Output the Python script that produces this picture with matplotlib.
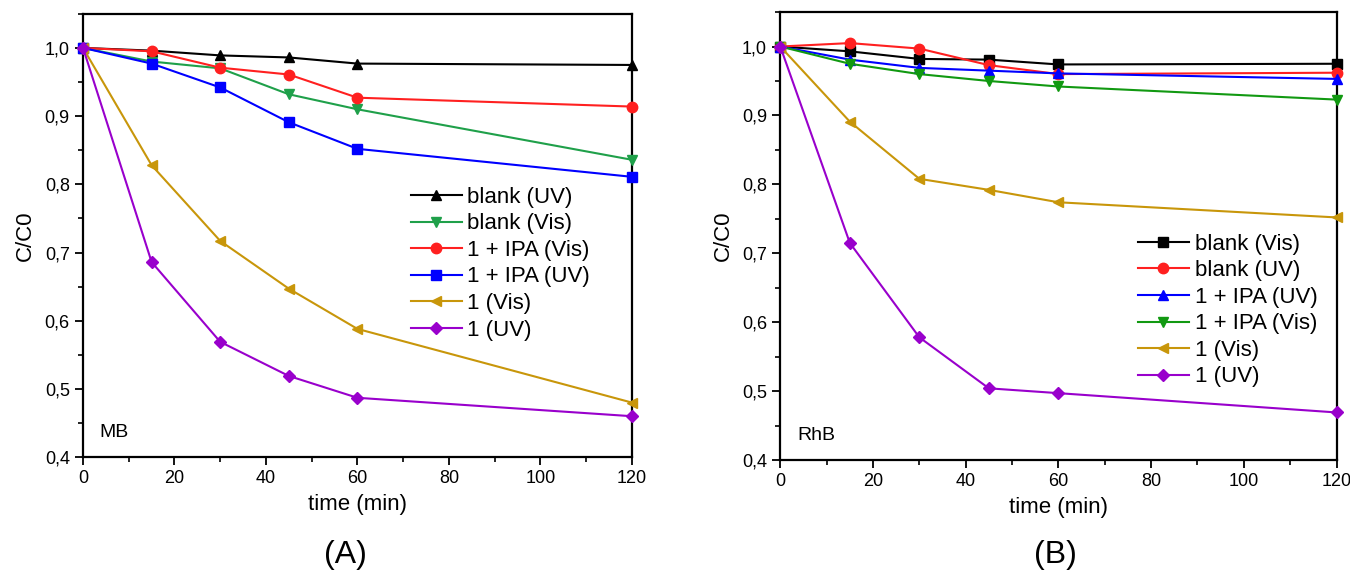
import matplotlib
matplotlib.use('Agg')
import matplotlib.pyplot as plt
from matplotlib.ticker import MultipleLocator, FuncFormatter

plt.rcParams['font.family'] = ['Liberation Sans', 'DejaVu Sans']

t = [0, 15, 30, 45, 60, 120]

# (A) MB
mb_labels = ['blank (UV)', 'blank (Vis)', '1 + IPA (Vis)', '1 + IPA (UV)', '1 (Vis)', '1 (UV)']
mb_blank_uv = [1.0, 0.996, 0.989, 0.986, 0.977, 0.975]
mb_blank_vis = [1.0, 0.980, 0.970, 0.932, 0.910, 0.836]
mb_ipa_vis = [1.0, 0.995, 0.971, 0.961, 0.927, 0.914]
mb_ipa_uv = [1.0, 0.977, 0.942, 0.891, 0.852, 0.811]
mb_1_vis = [1.0, 0.828, 0.717, 0.647, 0.588, 0.480]
mb_1_uv = [1.0, 0.686, 0.569, 0.519, 0.487, 0.460]

# (B) RhB
rhb_labels = ['blank (Vis)', 'blank (UV)', '1 + IPA (UV)', '1 + IPA (Vis)', '1 (Vis)', '1 (UV)']
rhb_blank_vis = [1.0, 0.993, 0.982, 0.981, 0.974, 0.975]
rhb_blank_uv = [1.0, 1.005, 0.997, 0.973, 0.960, 0.962]
rhb_ipa_uv = [1.0, 0.981, 0.969, 0.965, 0.961, 0.953]
rhb_ipa_vis = [1.0, 0.975, 0.960, 0.950, 0.942, 0.923]
rhb_1_vis = [1.0, 0.891, 0.808, 0.792, 0.774, 0.752]
rhb_1_uv = [1.0, 0.715, 0.578, 0.504, 0.497, 0.469]

black = '#000000'
green_a = '#1fa04a'
green_b = '#119911'
red = '#ff2020'
blue = '#0000ff'
gold = '#c8960a'
purple = '#9900cc'

fig = plt.figure(figsize=(13.5, 5.75), dpi=100)
axA = fig.add_axes([0.0615, 0.205, 0.4065, 0.771])
axB = fig.add_axes([0.578, 0.200, 0.412, 0.779])

seriesA = [
    (mb_blank_uv, black, '^'),
    (mb_blank_vis, green_a, 'v'),
    (mb_ipa_vis, red, 'o'),
    (mb_ipa_uv, blue, 's'),
    (mb_1_vis, gold, '<'),
    (mb_1_uv, purple, 'D'),
]
seriesB = [
    (rhb_blank_vis, black, 's'),
    (rhb_blank_uv, red, 'o'),
    (rhb_ipa_uv, blue, '^'),
    (rhb_ipa_vis, green_b, 'v'),
    (rhb_1_vis, gold, '<'),
    (rhb_1_uv, purple, 'D'),
]

comma = FuncFormatter(lambda v, p: ('%.1f' % v).replace('.', ','))

def setup(ax, series, labels, name, legend_anchor):
    for (y, c, m), lab in zip(series, labels):
        ms = 6.5 if m == 'D' else 7.5
        ax.plot(t, y, '-', color=c, marker=m, markersize=ms, lw=1.5,
                label=lab, clip_on=False, zorder=3)
    ax.set_xlim(0, 120)
    ax.set_ylim(0.4, 1.05)
    ax.xaxis.set_major_locator(MultipleLocator(20))
    ax.xaxis.set_minor_locator(MultipleLocator(10))
    ax.yaxis.set_major_locator(MultipleLocator(0.1))
    ax.yaxis.set_minor_locator(MultipleLocator(0.05))
    ax.yaxis.set_major_formatter(comma)
    ax.tick_params(which='major', direction='out', length=6, width=1.3, labelsize=13)
    ax.tick_params(which='minor', direction='out', length=3.5, width=1.2)
    for s in ax.spines.values():
        s.set_linewidth(1.6)
    ax.set_xlabel('time (min)', fontsize=16, labelpad=5)
    ax.set_ylabel('C/C0', fontsize=16, labelpad=6)
    ax.text(0.03, 0.045, name, transform=ax.transAxes, fontsize=14)
    ax.legend(loc='upper left', bbox_to_anchor=legend_anchor, frameon=False,
              fontsize=16, handlelength=2.3, handletextpad=0.25,
              labelspacing=0.25, borderpad=0)

setup(axA, seriesA, mb_labels, 'MB', (0.577, 0.635))
setup(axB, seriesB, rhb_labels, 'RhB', (0.623, 0.53))

fig.text(0.256, 0.02, '(A)', fontsize=23, ha='center')
fig.text(0.782, 0.02, '(B)', fontsize=23, ha='center')

fig.savefig('out.png', dpi=100)
